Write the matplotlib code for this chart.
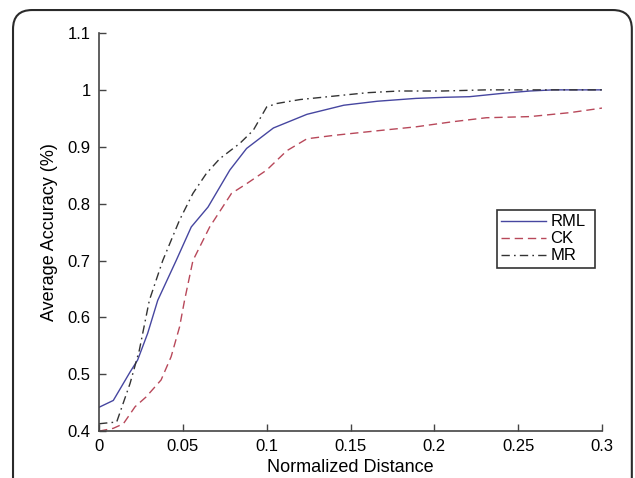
import numpy as np
import matplotlib
matplotlib.use("Agg")
import matplotlib.pyplot as plt
from matplotlib.patches import FancyBboxPatch

plt.rcParams['font.family'] = ['Liberation Sans', 'DejaVu Sans']

# values
rml_x = [0.0, 0.0085, 0.0185, 0.023, 0.029, 0.035, 0.046, 0.055, 0.065, 0.078, 0.088,
         0.104, 0.124, 0.146, 0.166, 0.189, 0.207, 0.221, 0.241, 0.257, 0.271, 0.3]
rml_y = [0.442, 0.454, 0.504, 0.525, 0.572, 0.630, 0.700, 0.759, 0.794, 0.859, 0.897,
         0.933, 0.957, 0.973, 0.980, 0.985, 0.987, 0.988, 0.994, 0.998, 1.0, 1.0]

ck_x = [0.0, 0.0085, 0.0145, 0.0215, 0.028, 0.037, 0.043, 0.048, 0.051, 0.056, 0.066,
        0.079, 0.088, 0.100, 0.112, 0.124, 0.140, 0.169, 0.189, 0.211, 0.231, 0.257,
        0.281, 0.3]
ck_y = [0.400, 0.405, 0.413, 0.443, 0.460, 0.490, 0.531, 0.583, 0.630, 0.700, 0.759,
        0.818, 0.835, 0.859, 0.893, 0.914, 0.920, 0.929, 0.935, 0.944, 0.951, 0.953,
        0.960, 0.968]

mr_x = [0.0, 0.0066, 0.0105, 0.0185, 0.024, 0.030, 0.038, 0.048, 0.056, 0.064, 0.072,
        0.084, 0.092, 0.100, 0.106, 0.120, 0.140, 0.160, 0.179, 0.205, 0.231, 0.271, 0.3]
mr_y = [0.413, 0.415, 0.416, 0.484, 0.542, 0.630, 0.700, 0.771, 0.818, 0.853, 0.879,
        0.906, 0.929, 0.970, 0.976, 0.983, 0.989, 0.995, 0.998, 0.998, 1.0, 1.0, 1.0]

x_ticks = [0, 0.05, 0.1, 0.15, 0.2, 0.25, 0.3]
x_labels = ["0", "0.05", "0.1", "0.15", "0.2", "0.25", "0.3"]
y_ticks = [0.4, 0.5, 0.6, 0.7, 0.8, 0.9, 1.0, 1.1]
y_labels = ["0.4", "0.5", "0.6", "0.7", "0.8", "0.9", "1", "1.1"]

fig = plt.figure(figsize=(6.35, 4.78), dpi=100)
ax = fig.add_axes([0.156, 0.098, 0.792, 0.833])

# rounded outer frame
frame = FancyBboxPatch((0.0205, -0.1), 0.9745, 1.079, boxstyle="round,pad=0,rounding_size=0.03",
                       transform=fig.transFigure, fill=False, ec="#2a2a2a", lw=1.5,
                       clip_on=False, mutation_aspect=635/478)
fig.patches.append(frame)

ax.plot(rml_x, rml_y, "-", color="#4646a0", lw=1.0, label="RML")
ax.plot(ck_x, ck_y, "--", color="#b8485a", lw=1.0, dashes=(6, 3.5), label="CK")
ax.plot(mr_x, mr_y, "-.", color="#333333", lw=1.0, dashes=(6, 3, 1.2, 3), label="MR")

ax.set_xlim(0, 0.3)
ax.set_ylim(0.4, 1.1)
ax.set_xticks(x_ticks)
ax.set_xticklabels(x_labels)
ax.set_yticks(y_ticks)
ax.set_yticklabels(y_labels)
ax.tick_params(direction="in", length=5, width=1, color="#444444", labelsize=12, pad=6)
for s in ["top", "right"]:
    ax.spines[s].set_visible(False)
for s in ["left", "bottom"]:
    ax.spines[s].set_color("#444444")
    ax.spines[s].set_linewidth(1.2)

ax.set_xlabel("Normalized Distance", fontsize=13, labelpad=3)
ax.set_ylabel("Average Accuracy (%)", fontsize=13, labelpad=7)

leg = ax.legend(loc="lower left", bbox_to_anchor=(0.791, 0.411, 0.196, 0.178), mode="expand",
                fontsize=12, frameon=True, fancybox=False, edgecolor="black",
                handlelength=2.7, handletextpad=0.25, borderpad=0.25, labelspacing=0.12,
                borderaxespad=0)
leg.get_frame().set_linewidth(1.2)

fig.savefig("out.png", dpi=100)
